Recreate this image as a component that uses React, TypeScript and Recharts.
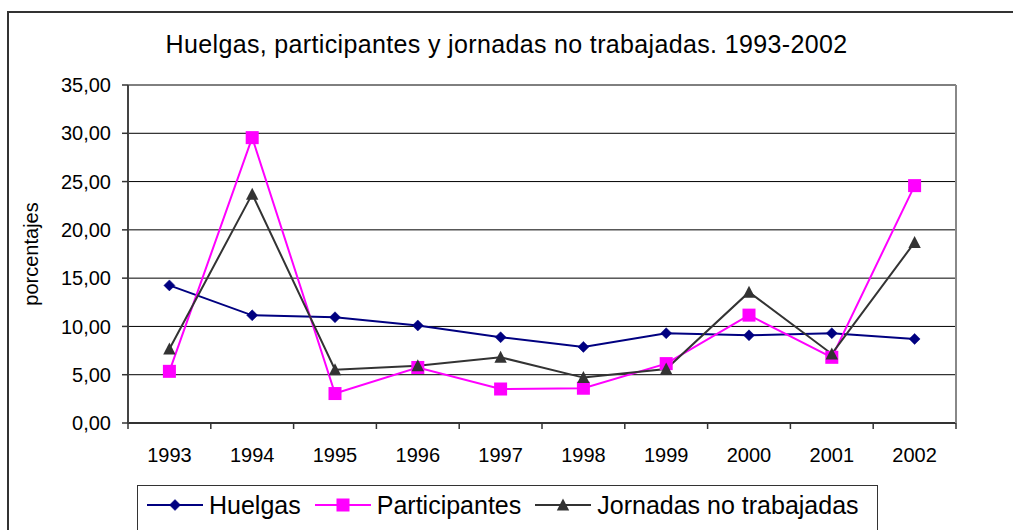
import React from 'react';
import { LineChart, Line, XAxis, YAxis, CartesianGrid } from 'recharts';

const years = ['1993', '1994', '1995', '1996', '1997', '1998', '1999', '2000', '2001', '2002'];
const huelgas = [14.25, 11.15, 10.95, 10.1, 8.88, 7.88, 9.3, 9.08, 9.3, 8.7];
const participantes = [5.35, 29.55, 3.05, 5.75, 3.52, 3.6, 6.15, 11.17, 6.8, 24.58];
const jornadas = [7.66, 23.7, 5.52, 5.93, 6.8, 4.7, 5.6, 13.55, 7.15, 18.7];
const yTicks = [0, 5, 10, 15, 20, 25, 30, 35];

const TITLE = 'Huelgas, participantes y jornadas no trabajadas. 1993-2002';
const Y_LABEL = 'porcentajes';

const series = [
  { key: 'huelgas', name: 'Huelgas', color: '#000080', shape: 'diamond' },
  { key: 'participantes', name: 'Participantes', color: '#FF00FF', shape: 'square' },
  { key: 'jornadas', name: 'Jornadas no trabajadas', color: '#333333', shape: 'triangle' },
];

const data = years.map((y, i) => ({
  year: y,
  huelgas: huelgas[i],
  participantes: participantes[i],
  jornadas: jornadas[i],
}));

const W = 1013;
const H = 530;
const PLOT_LEFT = 128;
const PLOT_RIGHT = 956;
const PLOT_TOP = 85;
const PLOT_BOTTOM = 423;
const PLOT_W = PLOT_RIGHT - PLOT_LEFT;
const HALF_BAND = PLOT_W / years.length / 2;
const FONT = "'Liberation Sans', Arial, sans-serif";

function Marker({ shape, cx, cy, color }: { shape: string; cx: number; cy: number; color: string }) {
  if (cx == null || cy == null) return null;
  if (shape === 'diamond') {
    const r = 5.5;
    return <path d={`M${cx},${cy - r}L${cx + r},${cy}L${cx},${cy + r}L${cx - r},${cy}Z`} fill={color} stroke={color} strokeWidth={0.5} />;
  }
  if (shape === 'square') {
    const s = 6.5;
    return <rect x={cx - s} y={cy - s} width={2 * s} height={2 * s} fill={color} />;
  }
  return <path d={`M${cx},${cy - 6.5}L${cx + 6.2},${cy + 5.5}L${cx - 6.2},${cy + 5.5}Z`} fill={color} />;
}

const makeDot = (shape: string, color: string) => (props: any) => (
  <Marker key={`${shape}-${props.index}`} shape={shape} cx={props.cx} cy={props.cy} color={color} />
);

const XTick = (props: any) => {
  const { x, y, payload, index } = props;
  const last = index === years.length - 1;
  return (
    <g>
      <line x1={x - HALF_BAND} y1={y} x2={x - HALF_BAND} y2={y + 6} stroke="#333" strokeWidth={1.5} />
      {last && <line x1={x + HALF_BAND} y1={y} x2={x + HALF_BAND} y2={y + 6} stroke="#333" strokeWidth={1.5} />}
      <text x={x} y={y + 39} textAnchor="middle" fontSize={20} fill="#000" fontFamily={FONT}>
        {payload.value}
      </text>
    </g>
  );
};

const YLabel = (props: any) => {
  const vb = props.viewBox || {};
  const cx = (vb.x || 0) + 38;
  const cy = (vb.y || 0) + (vb.height || 0) / 2;
  return (
    <text x={cx} y={cy} transform={`rotate(-90 ${cx} ${cy})`} textAnchor="middle" fontSize={20} fill="#000" fontFamily={FONT}>
      {Y_LABEL}
    </text>
  );
};

function LegendIcon({ shape, color }: { shape: string; color: string }) {
  return (
    <svg width={56} height={20} style={{ display: 'block' }}>
      <line x1={0} y1={10} x2={56} y2={10} stroke={color} strokeWidth={2} />
      <Marker shape={shape} cx={28} cy={10} color={color} />
    </svg>
  );
}

export default function App() {
  return (
    <div style={{ position: 'absolute', left: 0, top: 0, width: W, height: H, overflow: 'hidden', background: '#fff', fontFamily: FONT }}>
      <div style={{ position: 'absolute', left: 7, top: 11, width: 1200, height: 800, border: '2px solid #333', boxSizing: 'border-box' }} />
      <div style={{ position: 'absolute', left: 0, top: 29, width: 1013, textAlign: 'center', fontSize: 25, lineHeight: '30px', letterSpacing: '0.35px', color: '#000', paddingLeft: 0 }}>
        <span style={{ position: 'relative', left: 0 }}>{TITLE}</span>
      </div>
      <div style={{ position: 'absolute', left: 0, top: 0 }}>
        <LineChart
          width={W}
          height={H}
          data={data}
          margin={{ top: PLOT_TOP, right: 0, bottom: 0, left: 0 }}
        >
          <CartesianGrid vertical={false} stroke="#000" strokeWidth={1} />
          <XAxis
            dataKey="year"
            scale="band"
            height={H - PLOT_BOTTOM}
            tickLine={false}
            tickSize={0}
            tickMargin={0}
            axisLine={{ stroke: '#333', strokeWidth: 2 }}
            tick={<XTick />}
            interval={0}
          />
          <YAxis
            domain={[0, 35]}
            ticks={yTicks}
            width={PLOT_LEFT}
            tickSize={6}
            tickMargin={11}
            interval={0}
            tickFormatter={(v: number) => v.toFixed(2).replace('.', ',')}
            tick={{ fontSize: 20, fill: '#000', fontFamily: FONT }}
            tickLine={{ stroke: '#333', strokeWidth: 1.5 }}
            axisLine={{ stroke: '#444', strokeWidth: 2 }}
            label={<YLabel />}
          />
          <YAxis
            yAxisId="r"
            orientation="right"
            domain={[0, 35]}
            width={W - PLOT_RIGHT}
            tick={false}
            tickLine={false}
            axisLine={{ stroke: '#888', strokeWidth: 2 }}
          />
          {series.map((s) => (
            <Line
              key={s.key}
              type="linear"
              dataKey={s.key}
              name={s.name}
              stroke={s.color}
              strokeWidth={2}
              dot={makeDot(s.shape, s.color)}
              activeDot={false}
              isAnimationActive={false}
            />
          ))}
        </LineChart>
      </div>
      <div
        style={{
          position: 'absolute',
          left: 137,
          top: 485,
          width: 741,
          height: 80,
          border: '1.5px solid #333',
          boxSizing: 'border-box',
          display: 'flex',
          alignItems: 'flex-start',
          paddingLeft: 9,
          paddingTop: 5,
          fontSize: 25,
          lineHeight: '28px',
          color: '#000',
        }}
      >
        {series.map((s, i) => (
          <div key={s.key} style={{ display: 'flex', alignItems: 'center', marginRight: i < series.length - 1 ? 14 : 0, whiteSpace: 'nowrap' }}>
            <div style={{ marginTop: 0 }}>
              <LegendIcon shape={s.shape} color={s.color} />
            </div>
            <span style={{ marginLeft: 6 }}>{s.name}</span>
          </div>
        ))}
      </div>
    </div>
  );
}
